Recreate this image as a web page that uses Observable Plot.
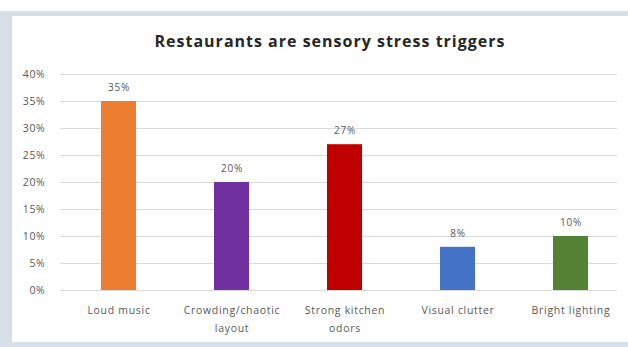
<!DOCTYPE html>
<html>
<head>
<meta charset="utf-8">
<script src="https://cdn.jsdelivr.net/npm/d3@7"></script>
<script src="https://cdn.jsdelivr.net/npm/@observablehq/plot@0.6"></script>
<style>
  html, body { margin: 0; padding: 0; background: #ffffff; width: 628px; height: 347px; overflow: hidden; }
  #frame { position: absolute; left: 0; top: 11px; width: 628px; height: 336px; background: #d6dee8; }
  #panel { position: absolute; left: 12px; top: 16px; width: 616px; height: 326px; background: #ffffff; }
  #title { position: absolute; left: 0; top: 30px; width: 660px; text-align: center; font-family: "Open Sans", sans-serif; font-weight: bold; font-size: 16px; letter-spacing: 1px; color: #262626; }
  #chart { position: absolute; left: 0; top: 0; }
  #chart text { letter-spacing: 0.7px; }
</style>
</head>
<body>
<div id="frame"></div>
<div id="panel"></div>
<div id="title">Restaurants are sensory stress triggers</div>
<div id="chart"></div>
<script>
const categories = ["Loud music", "Crowding/chaotic\nlayout", "Strong kitchen\nodors", "Visual clutter", "Bright lighting"];
const values = [0.35, 0.20, 0.27, 0.08, 0.10];
const colors = ["#ed7d31", "#7030a0", "#c00000", "#4472c4", "#548235"];
const yTicks = [0, 0.05, 0.10, 0.15, 0.20, 0.25, 0.30, 0.35, 0.40];

const data = categories.map((c, i) => ({category: c, value: values[i], color: colors[i]}));

const chart = Plot.plot({
  width: 628,
  height: 347,
  marginLeft: 60,
  marginRight: 11,
  marginTop: 74,
  marginBottom: 57,
  style: {background: "transparent", fontFamily: "'Open Sans', sans-serif", fontSize: "10.5px", color: "#595959", overflow: "visible"},
  x: {domain: categories, range: [60, 629], paddingInner: 0.69, paddingOuter: 0.345, axis: null},
  y: {domain: [0, 0.4], ticks: yTicks, axis: null},
  marks: [
    Plot.ruleY(yTicks, {stroke: "#d9d9d9", strokeWidth: 1}),
    Plot.axisY({ticks: yTicks, tickFormat: d3.format(".0%"), tickSize: 0, tickPadding: 15, fill: "#595959", fontSize: 10.5, label: null}),
    Plot.barY(data, {x: "category", y: "value", fill: "color"}),
    Plot.text(data, {x: "category", y: "value", text: d => d3.format(".0%")(d.value), dy: -14, fill: "#595959", fontSize: 10}),
    Plot.axisX({tickSize: 0, tickPadding: 11, lineHeight: 1.7, fill: "#595959", fontSize: 10.5, label: null})
  ]
});
document.getElementById("chart").appendChild(chart);
</script>
</body>
</html>
